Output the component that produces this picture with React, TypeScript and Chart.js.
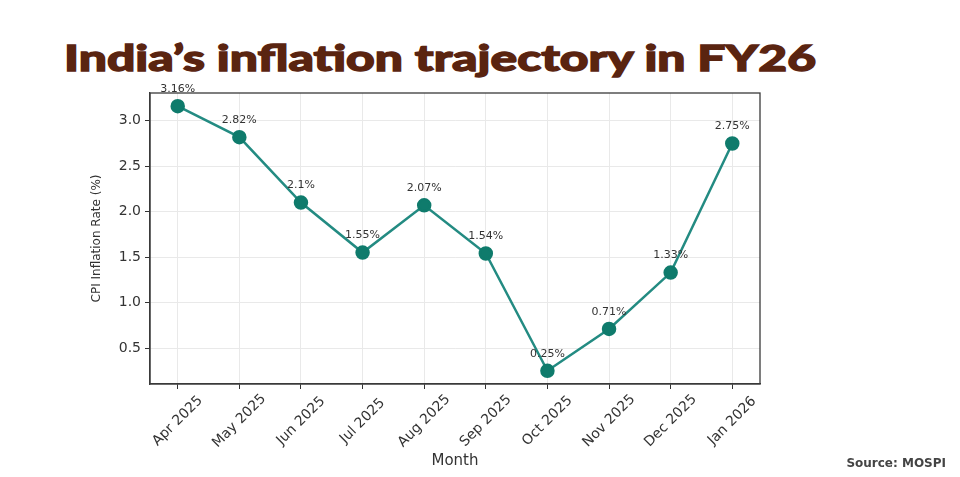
import { useEffect, useLayoutEffect, useRef } from "react";
import { Chart, registerables } from "chart.js";

Chart.register(...registerables);

const months = [
  "Apr 2025",
  "May 2025",
  "Jun 2025",
  "Jul 2025",
  "Aug 2025",
  "Sep 2025",
  "Oct 2025",
  "Nov 2025",
  "Dec 2025",
  "Jan 2026",
];
const cpiRate = [3.16, 2.82, 2.1, 1.55, 2.07, 1.54, 0.25, 0.71, 1.33, 2.75];
const valueLabels = ["3.16%", "2.82%", "2.1%", "1.55%", "2.07%", "1.54%", "0.25%", "0.71%", "1.33%", "2.75%"];
const yTickValues = [0.5, 1.0, 1.5, 2.0, 2.5, 3.0];

const FONT = "'DejaVu Sans', sans-serif";
const TITLE_WIDTH = 752;

export default function App() {
  const ref = useRef<HTMLCanvasElement | null>(null);
  const titleRef = useRef<HTMLSpanElement | null>(null);

  useLayoutEffect(() => {
    const el = titleRef.current;
    if (!el) return;
    const w = el.getBoundingClientRect().width;
    if (w > 0) el.style.transform = `scaleX(${TITLE_WIDTH / w})`;
  }, []);

  useEffect(() => {
    if (!ref.current) return;
    const overlay = {
      id: "overlay",
      beforeDraw(chart: any) {
        const { ctx, chartArea } = chart;
        ctx.save();
        ctx.fillStyle = "#ffffff";
        ctx.fillRect(chartArea.left, chartArea.top, chartArea.right - chartArea.left, chartArea.bottom - chartArea.top);
        ctx.restore();
      },
      afterDraw(chart: any) {
        const { ctx, chartArea, scales } = chart;
        ctx.save();
        ctx.strokeStyle = "#3a3a3a";
        ctx.lineWidth = 1.3;
        ctx.strokeRect(chartArea.left, chartArea.top, chartArea.right - chartArea.left, chartArea.bottom - chartArea.top);
        ctx.fillStyle = "#333333";
        ctx.font = `11px ${FONT}`;
        ctx.textAlign = "center";
        ctx.textBaseline = "middle";
        cpiRate.forEach((v, i) => {
          const x = scales.x.getPixelForValue(i);
          const y = scales.y.getPixelForValue(v);
          ctx.fillText(valueLabels[i], x, y - 17);
        });
        ctx.font = `14px ${FONT}`;
        ctx.fillStyle = "#333333";
        months.forEach((m, i) => {
          const x = scales.x.getPixelForValue(i);
          ctx.save();
          ctx.translate(x, chartArea.bottom + 37);
          ctx.rotate(-Math.PI / 4);
          ctx.textAlign = "center";
          ctx.textBaseline = "middle";
          ctx.fillText(m, 0, 0);
          ctx.restore();
        });
        ctx.restore();
      },
    };

    const chart = new Chart(ref.current, {
      type: "line",
      data: {
        datasets: [
          {
            label: "CPI Inflation Rate (%)",
            data: cpiRate.map((v, i) => ({ x: i, y: v })),
            borderColor: "#238b82",
            borderWidth: 2.5,
            backgroundColor: "#0f7b6c",
            pointBackgroundColor: "#0f7b6c",
            pointBorderColor: "#0f7b6c",
            pointRadius: 6,
            pointHoverRadius: 6,
            tension: 0,
          },
        ],
      },
      options: {
        animation: false,
        responsive: false,
        layout: { padding: { left: 86, top: 93, right: 200, bottom: 5 } },
        plugins: {
          legend: { display: false },
          tooltip: { enabled: false },
          title: { display: false },
        },
        scales: {
          x: {
            type: "linear",
            min: -0.45,
            max: 9.45,
            afterBuildTicks: (s: any) => {
              s.ticks = months.map((_, i) => ({ value: i }));
            },
            afterFit: (s: any) => {
              s.height = 88;
            },
            ticks: { color: "rgba(0,0,0,0)", font: { size: 14, family: FONT }, maxRotation: 0, autoSkip: false },
            grid: { color: "#e9e9e9", lineWidth: 1, tickColor: "#333333", tickLength: 5, drawTicks: true },
            border: { display: true, color: "#3a3a3a", width: 1.3 },
            title: {
              display: true,
              text: "Month",
              color: "#333333",
              font: { size: 15, family: FONT },
              padding: { top: 4, bottom: 2 },
            },
          },
          y: {
            type: "linear",
            min: 0.1045,
            max: 3.3055,
            afterBuildTicks: (s: any) => {
              s.ticks = yTickValues.map((v) => ({ value: v }));
            },
            afterFit: (s: any) => {
              s.width = 64;
            },
            ticks: {
              color: "#333333",
              font: { size: 14, family: FONT },
              padding: 4,
              callback: (v: any) => Number(v).toFixed(1),
            },
            grid: { color: "#e9e9e9", lineWidth: 1, tickColor: "#333333", tickLength: 5, drawTicks: true },
            border: { display: true, color: "#3a3a3a", width: 1.3 },
            title: {
              display: true,
              text: "CPI Inflation Rate (%)",
              color: "#333333",
              font: { size: 12, family: FONT },
              padding: { top: 4, bottom: 4 },
            },
          },
        },
      },
      plugins: [overlay],
    } as any);
    return () => chart.destroy();
  }, []);

  return (
    <div style={{ position: "fixed", left: 0, top: 0, width: 960, height: 477, background: "#ffffff", overflow: "hidden" }}>
      <div style={{ position: "absolute", left: 64, top: 35, lineHeight: "44px", whiteSpace: "nowrap" }}>
        <span
          ref={titleRef}
          style={{
            display: "inline-block",
            transformOrigin: "left center",
            fontFamily: "'Lato', sans-serif",
            fontWeight: 900,
            fontSize: 36,
            color: "#5a2410",
            WebkitTextStroke: "1.3px #5a2410",
          }}
        >
          India’s inflation trajectory in FY26
        </span>
      </div>
      <canvas ref={ref} width={960} height={477} style={{ position: "absolute", left: 0, top: 0 }} />
      <div
        style={{
          position: "absolute",
          right: 14,
          top: 456,
          fontFamily: FONT,
          fontWeight: 700,
          fontSize: 12,
          color: "#444444",
          whiteSpace: "nowrap",
        }}
      >
        Source: MOSPI
      </div>
    </div>
  );
}
